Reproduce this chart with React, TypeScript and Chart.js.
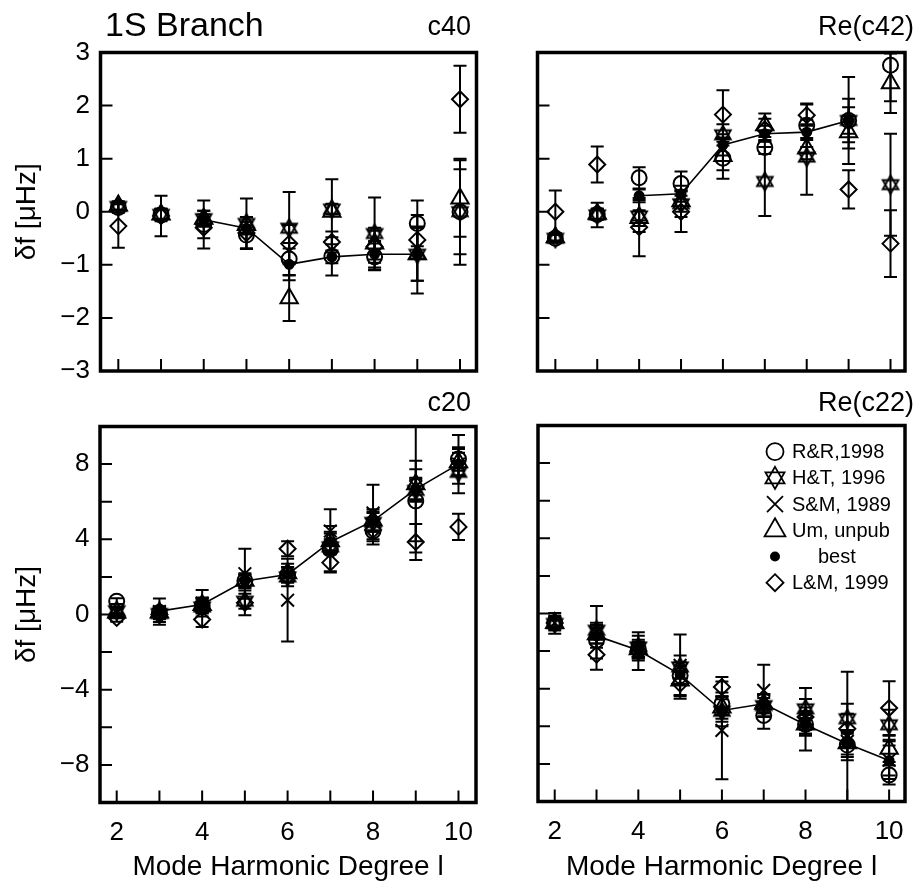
import React, { useEffect, useRef } from 'react';
import { Chart, registerables } from 'chart.js';

Chart.register(...registerables);

const FONT = "'Liberation Sans', Arial, Helvetica, sans-serif";

// ---------------- data ----------------
const degrees = [2, 3, 4, 5, 6, 7, 8, 9, 10];
const xTickValues = [2, 3, 4, 5, 6, 7, 8, 9, 10];
const xTickLabels = ['2', '', '4', '', '6', '', '8', '', '10'];
const topYTickValues = [-3, -2, -1, 0, 1, 2, 3];
const topYTickLabels = ['−3', '−2', '−1', '0', '1', '2', '3'];
const bottomYTickValues = [-8, -6, -4, -2, 0, 2, 4, 6, 8];
const bottomYTickLabels = ['−8', '', '−4', '', '0', '', '4', '', '8'];

const mainTitle = '1S Branch';
const xTitle = 'Mode Harmonic Degree l';
const yTitle = 'δf [μHz]';
const panelNames = ['c40', 'Re(c42)', 'c20', 'Re(c22)'];
const seriesNames = ['R&R,1998', 'H&T, 1996', 'S&M, 1989', 'Um, unpub', 'best', 'L&M, 1999'];
const seriesKinds = ['circle', 'hex', 'x', 'tri', 'dot', 'diamond'];

const none = [null, null, null, null, null, null, null, null, null];

// c40
const c40RR = [0.08, -0.06, -0.24, -0.44, -0.89, -0.84, -0.85, -0.22, 0.0];
const c40RRErr = [0.1, 0.12, 0.45, 0.25, 0.3, 0.36, 0.25, 0.43, 1.0];
const c40HT = [0.1, -0.05, -0.13, -0.22, -0.31, 0.05, -0.41, -0.8, 0.0];
const c40HTErr = [0.06, 0.1, 0.15, 0.47, 0.68, 0.1, 0.68, 0.5, 0.8];
const c40Um = [0.12, -0.05, -0.13, -0.25, -1.63, 0.0, -0.6, -0.8, 0.25];
const c40UmErr = [0.08, 0.1, 0.15, 0.15, 0.43, 0.61, 0.3, 0.74, 0.72];
const c40Best = [null, null, -0.15, -0.31, -0.99, -0.85, -0.8, -0.8, null];
const c40BestErr = [null, null, 0.1, 0.12, 0.3, 0.12, 0.25, 0.5, null];
const c40LM = [-0.27, -0.08, -0.3, -0.4, -0.6, -0.57, -0.66, -0.53, 2.12];
const c40LMErr = [0.41, 0.38, 0.2, 0.3, 0.35, 0.2, 0.3, 0.25, 0.63];

// Re(c42)
const c42RR = [-0.5, -0.05, 0.64, 0.53, 1.01, 1.21, 1.63, 1.72, 2.76];
const c42RRErr = [0.08, 0.1, 0.2, 0.23, 0.39, 0.12, 0.41, 0.41, 0.68];
const c42HT = [-0.5, -0.06, -0.08, 0.15, 1.45, 0.57, 1.03, 1.72, 0.51];
const c42HTErr = [0.06, 0.23, 0.3, 0.25, 0.2, 0.65, 0.71, 0.82, 0.96];
const c42Um = [-0.48, -0.04, -0.12, 0.2, 1.05, 1.63, 1.19, 1.5, 2.42];
const c42UmErr = [0.06, 0.1, 0.15, 0.2, 0.27, 0.22, 0.2, 0.31, 0.56];
const c42Best = [null, null, 0.3, 0.34, 1.26, 1.47, 1.5, 1.72, null];
const c42BestErr = [null, null, 0.12, 0.15, 0.2, 0.15, 0.15, 0.25, null];
const c42LM = [0.0, 0.89, -0.29, 0.0, 1.83, 1.55, 1.82, 0.42, -0.6];
const c42LMErr = [0.4, 0.34, 0.55, 0.38, 0.46, 0.2, 0.2, 0.36, 0.63];

// c20
const c20RR = [0.71, 0.1, 0.45, 1.8, 2.1, 3.47, 4.44, 6.04, 8.27];
const c20RRErr = [0.15, 0.3, 0.4, 0.3, 0.4, 1.24, 0.71, 2.14, 0.62];
const c20HT = [0.2, 0.05, 0.4, 0.71, 2.0, 3.6, 4.9, 6.6, 7.56];
const c20HTErr = [0.2, 0.3, 0.3, 0.4, 0.5, 0.4, 0.5, 0.6, 0.6];
const c20SM = [0.1, 0.15, 0.6, 2.17, 0.76, 4.44, 5.4, 6.8, 8.0];
const c20SMErr = [0.3, 0.7, 0.7, 1.33, 2.2, 1.16, 1.5, 3.5, 1.55];
const c20Um = [0.1, 0.1, 0.5, 1.8, 2.2, 3.9, 5.0, 6.93, 8.1];
const c20UmErr = [0.2, 0.3, 0.4, 0.4, 0.5, 0.5, 0.6, 0.8, 0.7];
const c20Best = [null, 0.18, 0.53, 1.78, 2.13, 3.86, 4.98, 6.67, 8.0];
const c20BestErr = [null, 0.25, 0.3, 0.35, 0.4, 0.45, 0.5, 0.6, 0.6];
const c20LM = [-0.18, 0.0, -0.27, 0.62, 3.5, 2.76, 4.5, 3.86, 4.66];
const c20LMErr = [0.2, 0.4, 0.4, 0.66, 0.4, 0.46, 0.5, 0.96, 0.7];

// Re(c22)
const c22RR = [-0.5, -1.42, -1.9, -3.3, -4.8, -5.42, -5.9, -7.0, -8.59];
const c22RRErr = [0.2, 0.4, 0.4, 0.5, 0.6, 0.71, 0.5, 0.8, 0.5];
const c22HT = [-0.53, -0.89, -1.78, -2.84, -5.2, -4.9, -5.07, -5.6, -5.92];
const c22HTErr = [0.55, 0.4, 0.6, 0.6, 0.8, 0.6, 1.11, 0.8, 0.8];
const c22SM = [-0.5, -1.0, -2.0, -2.76, -6.22, -4.09, -5.8, -6.8, -7.8];
const c22SMErr = [0.4, 1.4, 1.0, 1.64, 2.6, 1.37, 0.6, 3.7, 1.0];
const c22Um = [-0.5, -1.1, -1.9, -3.56, -5.0, -4.8, -5.9, -6.9, -7.2];
const c22UmErr = [0.3, 0.5, 0.5, 0.97, 0.6, 0.5, 0.6, 0.6, 0.7];
const c22Best = [null, -1.19, -1.96, -3.25, -5.16, -4.8, -5.92, -6.93, -7.82];
const c22BestErr = [null, 0.4, 0.4, 0.5, 0.6, 0.5, 1.37, 0.7, 0.8];
const c22LM = [-0.5, -2.19, -2.0, -3.73, -3.91, -5.0, -5.5, -6.13, -5.03];
const c22LMErr = [0.3, 0.8, 0.5, 0.6, 0.53, 0.5, 0.5, 0.8, 1.43];

// ---------------- layout / style ----------------
type Frame = { l: number; t: number; r: number; b: number };
type Panel = {
  name: string;
  frame: Frame;
  xMin: number; xMax: number; yMin: number; yMax: number;
  yTicks: number[]; yLabels: string[];
  showY: boolean; showX: boolean;
  values: (number | null)[][];
  errors: (number | null)[][];
  nameX: number; nameY: number;
  title?: boolean; legend?: boolean;
};

const panels: Panel[] = [
  {
    name: panelNames[0], frame: { l: 100.5, t: 52.5, r: 476.5, b: 371 },
    xMin: 1.583, xMax: 10.386, yMin: -3, yMax: 3, yTicks: topYTickValues, yLabels: topYTickLabels,
    showY: true, showX: false,
    values: [c40RR, c40HT, none, c40Um, c40Best, c40LM],
    errors: [c40RRErr, c40HTErr, none, c40UmErr, c40BestErr, c40LMErr],
    nameX: 471, nameY: 28, title: true,
  },
  {
    name: panelNames[1], frame: { l: 537.5, t: 52.5, r: 912.5, b: 371 },
    xMin: 1.574, xMax: 10.346, yMin: -3, yMax: 3, yTicks: topYTickValues, yLabels: topYTickLabels,
    showY: false, showX: false,
    values: [c42RR, c42HT, none, c42Um, c42Best, c42LM],
    errors: [c42RRErr, c42HTErr, none, c42UmErr, c42BestErr, c42LMErr],
    nameX: 914, nameY: 28,
  },
  {
    name: panelNames[2], frame: { l: 100, t: 426.5, r: 476, b: 802.5 },
    xMin: 1.609, xMax: 10.41, yMin: -10, yMax: 10, yTicks: bottomYTickValues, yLabels: bottomYTickLabels,
    showY: true, showX: true,
    values: [c20RR, c20HT, c20SM, c20Um, c20Best, c20LM],
    errors: [c20RRErr, c20HTErr, c20SMErr, c20UmErr, c20BestErr, c20LMErr],
    nameX: 471, nameY: 404,
  },
  {
    name: panelNames[3], frame: { l: 538, t: 425.5, r: 912, b: 801.5 },
    xMin: 1.6, xMax: 10.38, yMin: -10, yMax: 10, yTicks: bottomYTickValues, yLabels: bottomYTickLabels,
    showY: false, showX: true,
    values: [c22RR, c22HT, c22SM, c22Um, c22Best, c22LM],
    errors: [c22RRErr, c22HTErr, c22SMErr, c22UmErr, c22BestErr, c22LMErr],
    nameX: 914, nameY: 404, legend: true,
  },
];

const W = 917;
const H = 883;
const X_TITLE_Y = 867;
const Y_TITLE_X = 27;
const seriesOrder = [4, 0, 1, 2, 3, 5]; // best drawn on top
const pointStyleOf: Record<string, string> = { circle: 'circle', x: 'crossRot', tri: 'triangle', dot: 'circle', diamond: 'rectRot' };
const radiusOf: Record<string, number> = { circle: 7.5, hex: 9, x: 9, tri: 10, dot: 4.5, diamond: 8 };

function hexPath(g: CanvasRenderingContext2D, cx: number, cy: number, r: number) {
  g.beginPath();
  for (const off of [-Math.PI / 2, Math.PI / 2]) {
    for (let k = 0; k < 3; k++) {
      const a = off + (k * 2 * Math.PI) / 3;
      const px = cx + r * Math.cos(a);
      const py = cy + r * Math.sin(a);
      if (k === 0) g.moveTo(px, py);
      else g.lineTo(px, py);
    }
    g.closePath();
  }
}

function makeHexagram(r: number) {
  const size = Math.ceil(r * 2 + 4);
  const c = document.createElement('canvas');
  c.width = size;
  c.height = size;
  const g = c.getContext('2d')!;
  g.strokeStyle = '#000';
  g.lineWidth = 1.9;
  g.lineJoin = 'miter';
  hexPath(g, size / 2, size / 2, r);
  g.stroke();
  return c;
}

function drawMarker(ctx: CanvasRenderingContext2D, kind: string, x: number, y: number, r: number) {
  ctx.save();
  ctx.strokeStyle = '#000';
  ctx.fillStyle = '#000';
  ctx.lineWidth = 1.8;
  ctx.beginPath();
  if (kind === 'circle') {
    ctx.arc(x, y, r, 0, Math.PI * 2);
    ctx.stroke();
  } else if (kind === 'hex') {
    hexPath(ctx, x, y, r);
    ctx.stroke();
  } else if (kind === 'x') {
    ctx.moveTo(x - r, y - r); ctx.lineTo(x + r, y + r);
    ctx.moveTo(x + r, y - r); ctx.lineTo(x - r, y + r);
    ctx.stroke();
  } else if (kind === 'tri') {
    ctx.moveTo(x, y - r);
    ctx.lineTo(x + r * Math.sin((2 * Math.PI) / 3), y - r * Math.cos((2 * Math.PI) / 3));
    ctx.lineTo(x + r * Math.sin((4 * Math.PI) / 3), y - r * Math.cos((4 * Math.PI) / 3));
    ctx.closePath();
    ctx.stroke();
  } else if (kind === 'dot') {
    ctx.arc(x, y, r, 0, Math.PI * 2);
    ctx.fill();
  } else if (kind === 'diamond') {
    ctx.moveTo(x, y - r); ctx.lineTo(x + r, y); ctx.lineTo(x, y + r); ctx.lineTo(x - r, y);
    ctx.closePath();
    ctx.stroke();
  }
  ctx.restore();
}

const legendMarkerSize: Record<string, number> = { circle: 8.5, hex: 11, x: 8, tri: 12, dot: 5, diamond: 8.5 };

function buildConfig(p: Panel, hex: HTMLCanvasElement): any {
  const datasets = seriesOrder.map((k) => {
    const vals = p.values[k];
    const errs = p.errors[k];
    const data: any[] = [];
    degrees.forEach((d, j) => {
      if (vals[j] != null) data.push({ x: d, y: vals[j], e: errs[j] });
    });
    const kind = seriesKinds[k];
    const isBest = kind === 'dot';
    return {
      label: seriesNames[k],
      data,
      showLine: isBest,
      borderColor: '#000',
      borderWidth: isBest ? 1.6 : 0,
      pointStyle: kind === 'hex' ? hex : pointStyleOf[kind],
      pointRadius: radiusOf[kind],
      pointHoverRadius: radiusOf[kind],
      pointBorderColor: '#000',
      pointBackgroundColor: isBest ? '#000' : 'rgba(0,0,0,0)',
      pointBorderWidth: 2,
    };
  });

  const errorPlugin = {
    id: 'errorBars',
    beforeDatasetsDraw(chart: any) {
      const { ctx, chartArea: a } = chart;
      const xs = chart.scales.x;
      const ys = chart.scales.y;
      ctx.save();
      ctx.beginPath();
      ctx.rect(a.left, a.top, a.right - a.left, a.bottom - a.top);
      ctx.clip();
      ctx.strokeStyle = '#000';
      ctx.lineWidth = 2;
      chart.data.datasets.forEach((ds: any) => {
        ds.data.forEach((pt: any) => {
          if (pt.e == null) return;
          const px = xs.getPixelForValue(pt.x);
          const y1 = ys.getPixelForValue(pt.y + pt.e);
          const y2 = ys.getPixelForValue(pt.y - pt.e);
          ctx.beginPath();
          ctx.moveTo(px, y1); ctx.lineTo(px, y2);
          ctx.moveTo(px - 6.5, y1); ctx.lineTo(px + 6.5, y1);
          ctx.moveTo(px - 6.5, y2); ctx.lineTo(px + 6.5, y2);
          ctx.stroke();
        });
      });
      ctx.restore();
    },
  };

  const decorPlugin = {
    id: 'decor',
    afterDraw(chart: any) {
      const { ctx, chartArea: a } = chart;
      const xs = chart.scales.x;
      const ys = chart.scales.y;
      ctx.save();
      ctx.strokeStyle = '#000';
      ctx.lineWidth = 3.5;
      ctx.strokeRect(a.left, a.top, a.right - a.left, a.bottom - a.top);
      ctx.lineWidth = 2;
      ctx.beginPath();
      xTickValues.forEach((v) => {
        if (v <= p.xMin || v >= p.xMax) return;
        const px = xs.getPixelForValue(v);
        ctx.moveTo(px, a.bottom); ctx.lineTo(px, a.bottom - 12);
      });
      p.yTicks.forEach((v) => {
        if (v <= p.yMin || v >= p.yMax) return;
        const py = ys.getPixelForValue(v);
        ctx.moveTo(a.left, py); ctx.lineTo(a.left + 12, py);
      });
      ctx.stroke();

      ctx.fillStyle = '#000';
      ctx.textBaseline = 'middle';
      ctx.font = `27px ${FONT}`;
      ctx.textAlign = 'right';
      ctx.fillText(p.name, p.nameX, p.nameY);
      if (p.title) {
        ctx.font = `34px ${FONT}`;
        ctx.textAlign = 'left';
        ctx.fillText(mainTitle, 105, 27);
      }
      if (p.legend) {
        const mx = a.left + 237;
        const tx = a.left + 254;
        ctx.font = `20px ${FONT}`;
        ctx.textAlign = 'left';
        seriesNames.forEach((nm, i) => {
          const ly = a.top + 26.2 + i * 26.2;
          const kind = seriesKinds[i];
          drawMarker(ctx, kind, mx, ly, legendMarkerSize[kind]);
          ctx.fillStyle = '#000';
          ctx.fillText(nm, kind === 'dot' ? tx + 26 : tx, ly + 1);
        });
      }
      ctx.restore();
    },
  };

  const f = p.frame;
  const xAxisH = X_TITLE_Y + 14 - f.b;
  const yAxisW = f.l - (Y_TITLE_X - 14);
  return {
    type: 'scatter',
    data: { datasets },
    options: {
      animation: false,
      responsive: false,
      devicePixelRatio: 1,
      events: [],
      layout: {
        padding: {
          left: p.showY ? Y_TITLE_X - 14 : f.l,
          right: W - f.r,
          top: f.t,
          bottom: p.showX ? H - f.b - xAxisH : H - f.b,
        },
      },
      plugins: { legend: { display: false }, tooltip: { enabled: false }, title: { display: false } },
      scales: {
        x: {
          type: 'linear',
          bounds: 'data',
          min: p.xMin,
          max: p.xMax,
          display: p.showX,
          afterBuildTicks: (s: any) => { s.ticks = xTickValues.map((v) => ({ value: v })); },
          afterFit: (s: any) => {
            if (!p.showX) { s.height = 0; return; }
            s.height = xAxisH; s.paddingLeft = 0; s.paddingRight = 0;
          },
          grid: { display: false, drawTicks: false, tickLength: 0 },
          border: { display: false },
          ticks: {
            autoSkip: false, maxRotation: 0, minRotation: 0, padding: 17, color: '#000',
            font: { family: FONT, size: 26, lineHeight: 1 },
            callback: (v: any) => { const i = xTickValues.indexOf(Number(v)); return i >= 0 ? xTickLabels[i] : ''; },
          },
          title: { display: true, text: xTitle, color: '#000', font: { family: FONT, size: 28, lineHeight: 1 }, padding: 0 },
        },
        y: {
          type: 'linear',
          bounds: 'data',
          min: p.yMin,
          max: p.yMax,
          display: p.showY,
          afterBuildTicks: (s: any) => { s.ticks = p.yTicks.map((v) => ({ value: v })); },
          afterFit: (s: any) => {
            if (!p.showY) { s.width = 0; return; }
            s.width = yAxisW; s.paddingTop = 0; s.paddingBottom = 0;
          },
          grid: { display: false, drawTicks: false, tickLength: 0 },
          border: { display: false },
          ticks: {
            autoSkip: false, padding: 10.5, color: '#000',
            font: { family: FONT, size: 26, lineHeight: 1 },
            callback: (v: any) => { const i = p.yTicks.indexOf(Number(v)); return i >= 0 ? p.yLabels[i] : ''; },
          },
          title: { display: true, text: yTitle, color: '#000', font: { family: FONT, size: 28, lineHeight: 1 }, padding: 0 },
        },
      },
    },
    plugins: [errorPlugin, decorPlugin],
  };
}

export default function App() {
  const canvases = useRef<(HTMLCanvasElement | null)[]>([]);
  useEffect(() => {
    const hex = makeHexagram(radiusOf.hex);
    const charts = panels.map((p, i) => new Chart(canvases.current[i] as HTMLCanvasElement, buildConfig(p, hex)));
    return () => charts.forEach((c) => c.destroy());
  }, []);
  return (
    <div style={{ position: 'absolute', left: 0, top: 0, width: W, height: H, background: '#fff' }}>
      {panels.map((p, i) => (
        <canvas
          key={p.name}
          ref={(el) => { canvases.current[i] = el; }}
          width={W}
          height={H}
          style={{ position: 'absolute', left: 0, top: 0, width: W, height: H }}
        />
      ))}
    </div>
  );
}
